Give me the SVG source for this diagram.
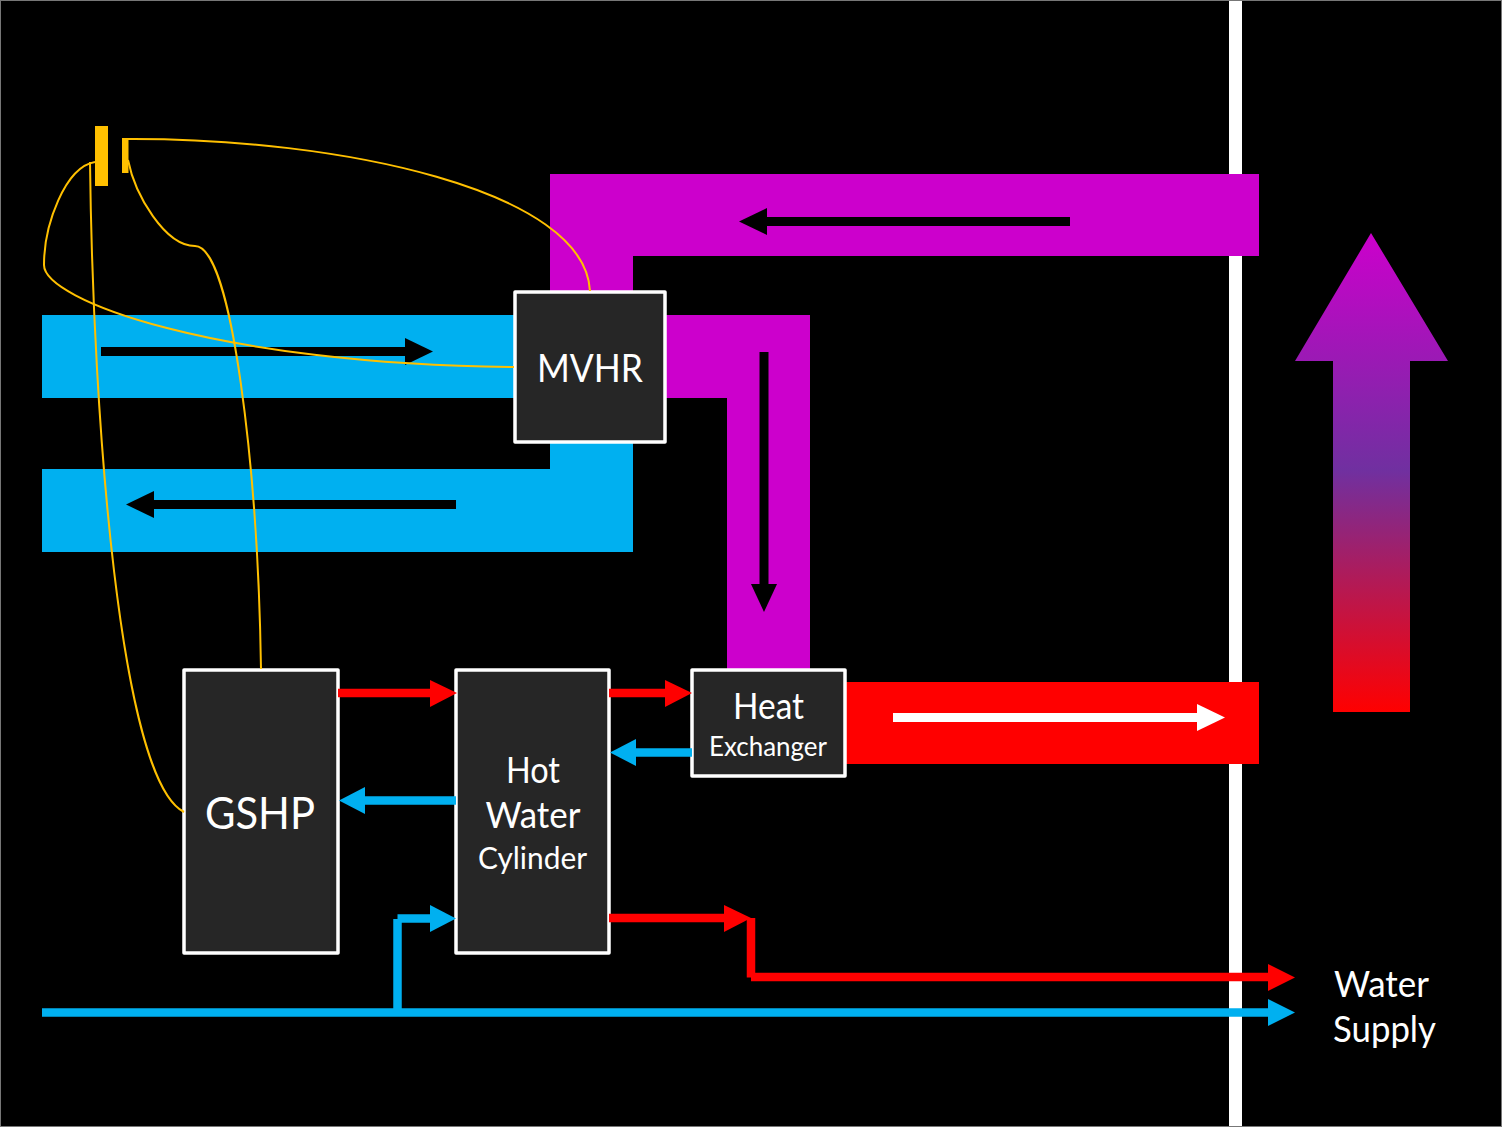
<svg xmlns="http://www.w3.org/2000/svg" width="1502" height="1127" viewBox="0 0 1502 1127">
<style>
.box{fill:#262626;stroke:#fff;stroke-width:3.5;stroke-linejoin:round}
text{font-family:Lato,"Noto Sans",sans-serif;fill:#fff;text-anchor:middle}
.w{stroke:#00b0f0;stroke-width:8.5;fill:none}
.r{stroke:#f00;stroke-width:8.5;fill:none}
.k{stroke:#000;stroke-width:9;fill:none}
.y{stroke:#ffc000;stroke-width:2;fill:none}
.fr{fill:#f00}.fw{fill:#00b0f0}
</style>
<defs>
<linearGradient id="g" x1="0" y1="1" x2="0" y2="0">
<stop offset="0" stop-color="#f00"/><stop offset="0.505" stop-color="#7030a0"/><stop offset="1" stop-color="#cc00cc"/>
</linearGradient>
</defs>
<rect width="1502" height="1127" fill="#000"/>
<rect x="0.500" y="0.500" width="1501" height="1126" fill="none" stroke="#777" stroke-width="1"/>
<rect id="wall" x="1229" y="1" width="13" height="1125" fill="#fff"/>
<g id="ducts">
<path d="M550 174H1259V256H633V291H550Z" fill="#cc00cc"/>
<path d="M666 315H810V670H727V398H666Z" fill="#cc00cc"/>
<rect x="42" y="315" width="472" height="83" fill="#00b0f0"/>
<path d="M42 469H550V443H633V552H42Z" fill="#00b0f0"/>
<rect x="846" y="682" width="413" height="82" fill="#f00"/>
</g>
<path id="big-arrow" d="M1371 233L1448 361H1410V712H1333V361H1295Z" fill="url(#g)"/>
<g id="controller">
<rect x="95" y="126" width="13" height="60" fill="#ffc000"/>
<rect x="122" y="138" width="6.500" height="35" fill="#ffc000"/>
</g>
<g id="mvhr"><rect class="box" x="515" y="292" width="150" height="150"/><text x="590" y="382" font-size="39" textLength="106" lengthAdjust="spacingAndGlyphs">MVHR</text></g>
<g id="gshp"><rect class="box" x="184" y="670" width="154" height="283"/><text x="260" y="829" font-size="44" textLength="110" lengthAdjust="spacingAndGlyphs">GSHP</text></g>
<g id="cylinder"><rect class="box" x="456" y="670" width="153" height="283"/>
<text x="533" y="783" font-size="36" textLength="54" lengthAdjust="spacingAndGlyphs">Hot</text><text x="533" y="828" font-size="36" textLength="95" lengthAdjust="spacingAndGlyphs">Water</text><text x="532.500" y="869" font-size="30" textLength="109" lengthAdjust="spacingAndGlyphs">Cylinder</text></g>
<g id="heat-exchanger"><rect class="box" x="692" y="670" width="153" height="106"/>
<text x="768.500" y="719" font-size="36" textLength="71" lengthAdjust="spacingAndGlyphs">Heat</text><text x="768" y="756" font-size="27" textLength="118" lengthAdjust="spacingAndGlyphs">Exchanger</text></g>
<g id="label"><text x="1381.500" y="997" font-size="36" textLength="95" lengthAdjust="spacingAndGlyphs">Water</text><text x="1384.500" y="1042" font-size="36" textLength="103" lengthAdjust="spacingAndGlyphs">Supply</text></g>
<g id="connectors">
<path class="k" d="M1070 221.500H765"/><path d="M767 208L739 221.500L767 235Z"/>
<path class="k" d="M101 351.500H407"/><path d="M405 338L433 351.500L405 365Z"/>
<path class="k" d="M456 504.500H152"/><path d="M154 491L126 504.500L154 518Z"/>
<path class="k" d="M764 352V586"/><path d="M751 584L764 612L777 584Z"/>
<path d="M893 717.500H1199" stroke="#fff" stroke-width="9" fill="none"/><path d="M1197 704L1225 717.500L1197 731Z" fill="#fff"/>
<path class="r" d="M338 693H432"/><path class="fr" d="M430 680L457 693L430 707Z"/>
<path class="r" d="M609 693H667"/><path class="fr" d="M665 680L692 693L665 707Z"/>
<path class="w" d="M692 752.500H634"/><path class="fw" d="M636 739L610 752.500L636 766Z"/>
<path class="w" d="M456 800.500H365"/><path class="fw" d="M365 787L339 800.500L365 814Z"/>
<path class="r" d="M609 918H726"/><path class="fr" d="M724 905L751 918L724 932Z"/>
<path class="r" d="M751 918V977.500"/><path class="r" d="M751 977H1270"/><path class="fr" d="M1268 964L1295 977.500L1268 991Z"/>
<path class="w" d="M42 1012.500H1270"/><path class="fw" d="M1268 999L1295 1012.500L1268 1026Z"/>
<path class="w" d="M397.500 1012V919"/><path class="w" d="M397.500 918.500H432"/><path class="fw" d="M430 905L456 918.500L430 932Z"/>
</g>
<g id="wires">
<path class="y" d="M95 162C65 167 44 225 44 265C44 300 215 364 514 367"/>
<path class="y" d="M90 162C93 420 120 780 184 812"/>
<path class="y" d="M127 139C340 138 585 190 590 291"/>
<path class="y" d="M128 160C135 195 165 246 195 246C232 246 258 470 261 669"/>
</g>
</svg>
